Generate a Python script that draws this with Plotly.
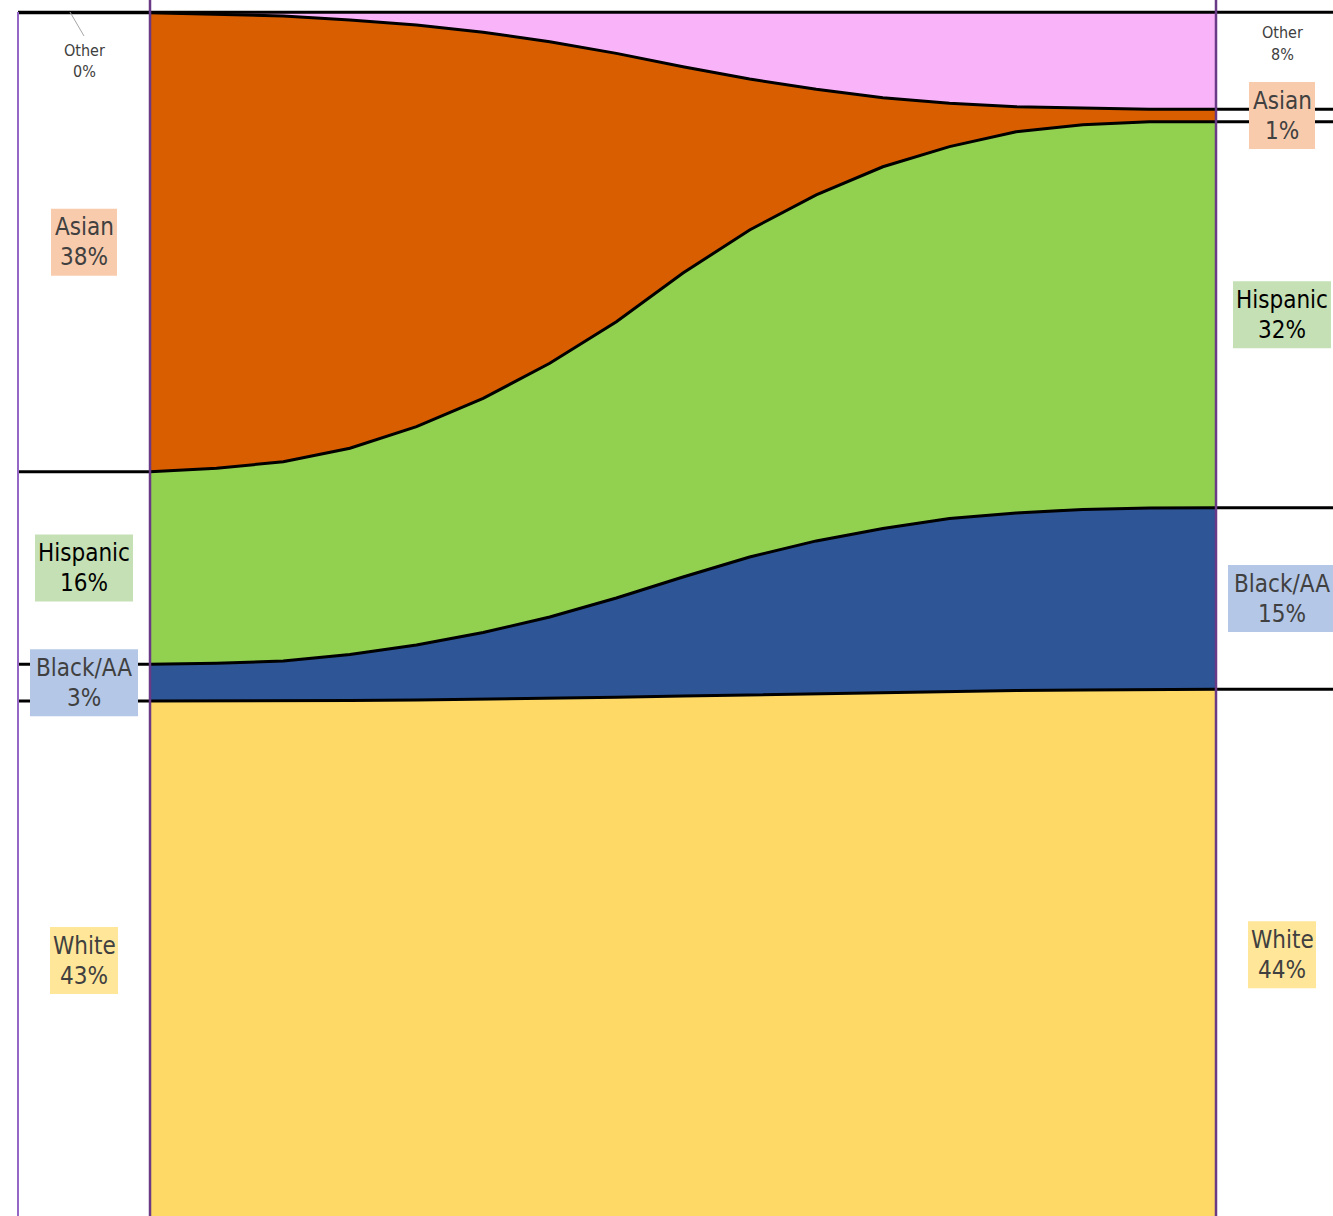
import plotly.graph_objects as go

# ---- data: share of each group (%) across 17 evenly spaced steps ----
steps = list(range(17))
white = [42.97, 42.97, 42.99, 43.02, 43.06, 43.12, 43.20, 43.28, 43.39,
         43.49, 43.60, 43.70, 43.79, 43.84, 43.89, 43.93, 43.94]
black = [3.04, 3.12, 3.30, 3.81, 4.55, 5.52, 6.73, 8.22, 9.85,
         11.41, 12.63, 13.55, 14.30, 14.70, 14.95, 15.03, 15.04]
hispanic = [15.95, 16.15, 16.50, 17.07, 18.08, 19.39, 21.01, 22.88, 25.17,
            27.08, 28.65, 29.96, 30.79, 31.57, 31.84, 31.98, 31.96]
asian = [38.01, 37.62, 36.91, 35.46, 33.26, 30.31, 26.63, 22.22, 17.08,
         12.50, 8.74, 5.71, 3.59, 2.07, 1.38, 1.04, 1.03]
other = [0.03, 0.14, 0.31, 0.64, 1.05, 1.66, 2.43, 3.39, 4.50,
         5.52, 6.39, 7.07, 7.54, 7.82, 7.95, 8.03, 8.03]

groups = ["White", "Black/AA", "Hispanic", "Asian", "Other"]
series = [white, black, hispanic, asian, other]
fills = ["#FED966", "#2E5596", "#92D050", "#D95E00", "#F9B3F9"]
box_colors = {"White": "#FFE699", "Black/AA": "#B4C7E7",
              "Hispanic": "#C5E0B4", "Asian": "#F8CBAD"}
text_colors = {"White": "#404040", "Black/AA": "#404040",
               "Hispanic": "#000000", "Asian": "#404040"}
box_widths = {"White": 68, "Black/AA": 108, "Hispanic": 98, "Asian": 66}

W, H = 1333, 1216
FONT = "DejaVu Sans Condensed, DejaVu Sans, sans-serif"

# canvas geometry (pixels) -> axis units
STEP_PX = 66.625
X_START = 150
Y_ZERO = 1220
Y_UNIT = 12.077


def xd(px):
    return (px - X_START) / STEP_PX


def yd(py):
    return (Y_ZERO - py) / Y_UNIT


def ypx(v):
    return Y_ZERO - v * Y_UNIT


fig = go.Figure()
for name, vals, col in zip(groups, series, fills):
    fig.add_trace(go.Scatter(
        x=steps, y=vals, name=name, stackgroup="one", mode="lines",
        line=dict(color="black", width=3, shape="linear"),
        fillcolor=col, hoverinfo="skip", showlegend=False))


def cumulative(idx):
    out, total = [], 0.0
    for vals in series:
        total += vals[idx]
        out.append(total)
    return out


shapes = []
annotations = []

left_cum = cumulative(0)
right_cum = cumulative(-1)

# boundary ticks carried into the side columns
for c in left_cum:
    shapes.append(dict(type="line", xref="x", yref="y", x0=xd(18), x1=xd(150),
                       y0=c, y1=c, line=dict(color="black", width=3), layer="above"))
for c in right_cum:
    shapes.append(dict(type="line", xref="x", yref="y", x0=xd(1216), x1=xd(1333),
                       y0=c, y1=c, line=dict(color="black", width=3), layer="above"))

# vertical frame lines
shapes.append(dict(type="line", xref="x", yref="y", x0=xd(18), x1=xd(18),
                   y0=yd(12), y1=yd(1216), line=dict(color="#9466C6", width=2), layer="above"))
shapes.append(dict(type="line", xref="x", yref="y", x0=xd(150), x1=xd(150),
                   y0=yd(0), y1=yd(1216), line=dict(color="#6A3A86", width=2.5), layer="above"))
shapes.append(dict(type="line", xref="x", yref="y", x0=xd(1216), x1=xd(1216),
                   y0=yd(0), y1=yd(1216), line=dict(color="#6A3A86", width=2.5), layer="above"))


def add_label(name, value, lo, hi, cx):
    mid_px = ypx((lo + hi) / 2)
    bw = box_widths[name]
    shapes.append(dict(type="rect", xref="x", yref="y",
                       x0=xd(cx - bw / 2), x1=xd(cx + bw / 2),
                       y0=yd(mid_px - 33.5), y1=yd(mid_px + 33.5),
                       fillcolor=box_colors[name], line=dict(width=0), layer="above"))
    for txt, off in ((name, -15), (f"{round(value)}%", 15)):
        annotations.append(dict(xref="x", yref="y", x=xd(cx), y=yd(mid_px + off),
                                text=txt, showarrow=False, xanchor="center",
                                yanchor="middle",
                                font=dict(family=FONT, size=24, color=text_colors[name])))


lo_l, lo_r = 0.0, 0.0
for k, name in enumerate(groups[:4]):
    add_label(name, series[k][0], lo_l, left_cum[k], 84)
    add_label(name, series[k][-1], lo_r, right_cum[k], 1282)
    lo_l, lo_r = left_cum[k], right_cum[k]

# "Other" labels (small, no box)
for cx, v, py1, py2 in ((84, other[0], 50, 71), (1282, other[-1], 32, 54)):
    annotations.append(dict(xref="x", yref="y", x=xd(cx), y=yd(py1), text="Other",
                            showarrow=False, xanchor="center", yanchor="middle",
                            font=dict(family=FONT, size=16, color="#404040")))
    annotations.append(dict(xref="x", yref="y", x=xd(cx), y=yd(py2), text=f"{round(v)}%",
                            showarrow=False, xanchor="center", yanchor="middle",
                            font=dict(family=FONT, size=16, color="#404040")))

# leader from the left "Other" label to its sliver
shapes.append(dict(type="line", xref="x", yref="y", x0=xd(70), x1=xd(84),
                   y0=yd(12), y1=yd(36), line=dict(color="#A6A6A6", width=1), layer="above"))

fig.update_layout(
    width=W, height=H,
    margin=dict(l=0, r=0, t=0, b=0),
    paper_bgcolor="white", plot_bgcolor="white",
    xaxis=dict(range=[xd(0), xd(W)], visible=False, fixedrange=True),
    yaxis=dict(range=[yd(H), yd(0)], visible=False, fixedrange=True),
    shapes=shapes, annotations=annotations,
    showlegend=False,
)

fig.write_html("out.html")
